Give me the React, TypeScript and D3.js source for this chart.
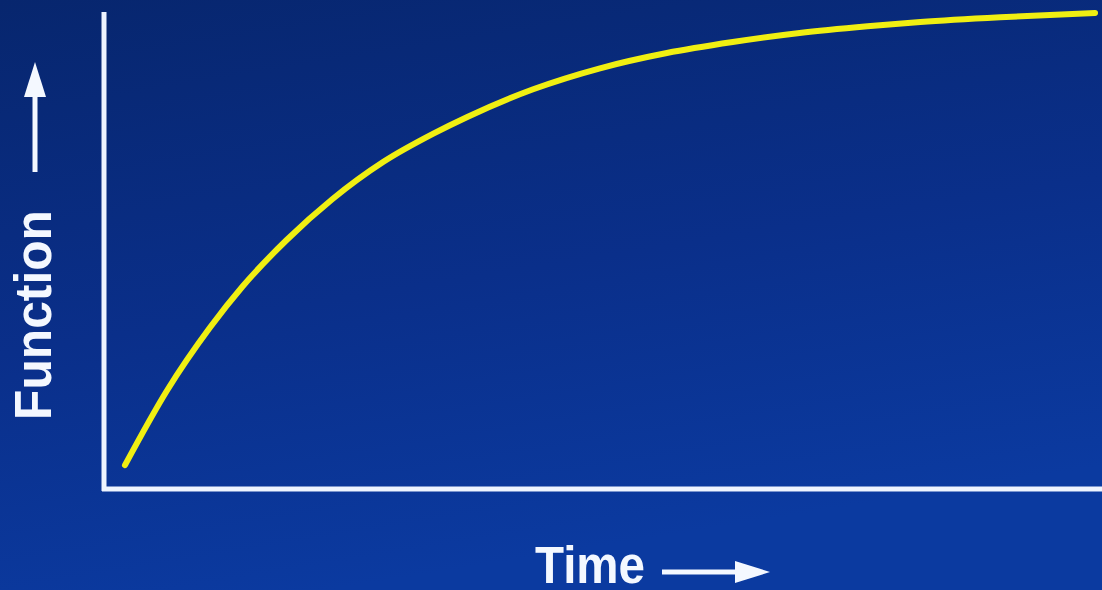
import React, { useEffect, useRef } from 'react';
import * as d3 from 'd3';

const W = 1102;
const H = 590;

// curve, in axis units (0..10 both ways)
const timeValues = [0.21, 0.63, 1.06, 1.39, 1.83, 2.29, 2.8, 3.3, 3.64, 4.3, 4.97, 5.64, 6.3, 6.97, 7.65, 8.18, 8.98, 9.93];
const functionValues = [0.5, 2.06, 3.38, 4.25, 5.22, 6.08, 6.86, 7.45, 7.8, 8.38, 8.82, 9.14, 9.37, 9.56, 9.7, 9.79, 9.89, 9.98];

const xLabel = 'Time';
const yLabel = 'Function';

const App = () => {
  const svgRef = useRef<SVGSVGElement>(null);

  useEffect(() => {
    if (!svgRef.current) return;
    const svg = d3.select(svgRef.current);
    svg.selectAll('*').remove();

    const x = d3.scaleLinear().domain([0, 10]).range([104, W]);
    const y = d3.scaleLinear().domain([0, 10]).range([489, 12]);

    const defs = svg.append('defs');
    const grad = defs.append('linearGradient')
      .attr('id', 'bg')
      .attr('x1', 0).attr('y1', 0).attr('x2', 0.3).attr('y2', 1);
    grad.append('stop').attr('offset', '0%').attr('stop-color', '#07266e');
    grad.append('stop').attr('offset', '55%').attr('stop-color', '#0a2f8a');
    grad.append('stop').attr('offset', '100%').attr('stop-color', '#0b3aa0');

    svg.append('rect').attr('width', W).attr('height', H).attr('fill', 'url(#bg)');

    const axisColor = '#eef4ff';
    // axes, no ticks
    svg.append('line')
      .attr('x1', x(0)).attr('x2', x(0))
      .attr('y1', y(10)).attr('y2', y(0) + 2)
      .attr('stroke', axisColor).attr('stroke-width', 5);
    svg.append('line')
      .attr('x1', x(0) - 2).attr('x2', x(10))
      .attr('y1', y(0)).attr('y2', y(0))
      .attr('stroke', axisColor).attr('stroke-width', 5);

    const pts = timeValues.map((t, i) => [t, functionValues[i]] as [number, number]);
    const line = d3.line<[number, number]>()
      .x(d => x(d[0]))
      .y(d => y(d[1]))
      .curve(d3.curveMonotoneX);

    svg.append('path')
      .attr('d', line(pts))
      .attr('fill', 'none')
      .attr('stroke', '#f0ef12')
      .attr('stroke-width', 6)
      .attr('stroke-linecap', 'round');

    const font = '"Liberation Sans", Arial, sans-serif';

    // x label + arrow
    svg.append('text')
      .attr('x', 535).attr('y', 583)
      .attr('font-family', font).attr('font-weight', 'bold')
      .attr('font-size', 51)
      .attr('textLength', 110).attr('lengthAdjust', 'spacingAndGlyphs')
      .attr('fill', '#f4f8ff')
      .text(xLabel);
    svg.append('line')
      .attr('x1', 662).attr('x2', 740).attr('y1', 572).attr('y2', 572)
      .attr('stroke', '#f4f8ff').attr('stroke-width', 5);
    svg.append('path')
      .attr('d', 'M735,561 L770,572 L735,583 Z')
      .attr('fill', '#f4f8ff');

    // y label + arrow
    svg.append('text')
      .attr('transform', 'translate(51,315) rotate(-90)')
      .attr('text-anchor', 'middle')
      .attr('font-family', font).attr('font-weight', 'bold')
      .attr('font-size', 52)
      .attr('textLength', 210).attr('lengthAdjust', 'spacingAndGlyphs')
      .attr('fill', '#f4f8ff')
      .text(yLabel);
    svg.append('line')
      .attr('x1', 35).attr('x2', 35).attr('y1', 92).attr('y2', 172)
      .attr('stroke', '#f4f8ff').attr('stroke-width', 5);
    svg.append('path')
      .attr('d', 'M24,97 L35,62 L46,97 Z')
      .attr('fill', '#f4f8ff');
  }, []);

  return (
    <svg
      ref={svgRef}
      width={W}
      height={H}
      style={{ position: 'absolute', left: 0, top: 0, display: 'block' }}
    />
  );
};

export default App;
